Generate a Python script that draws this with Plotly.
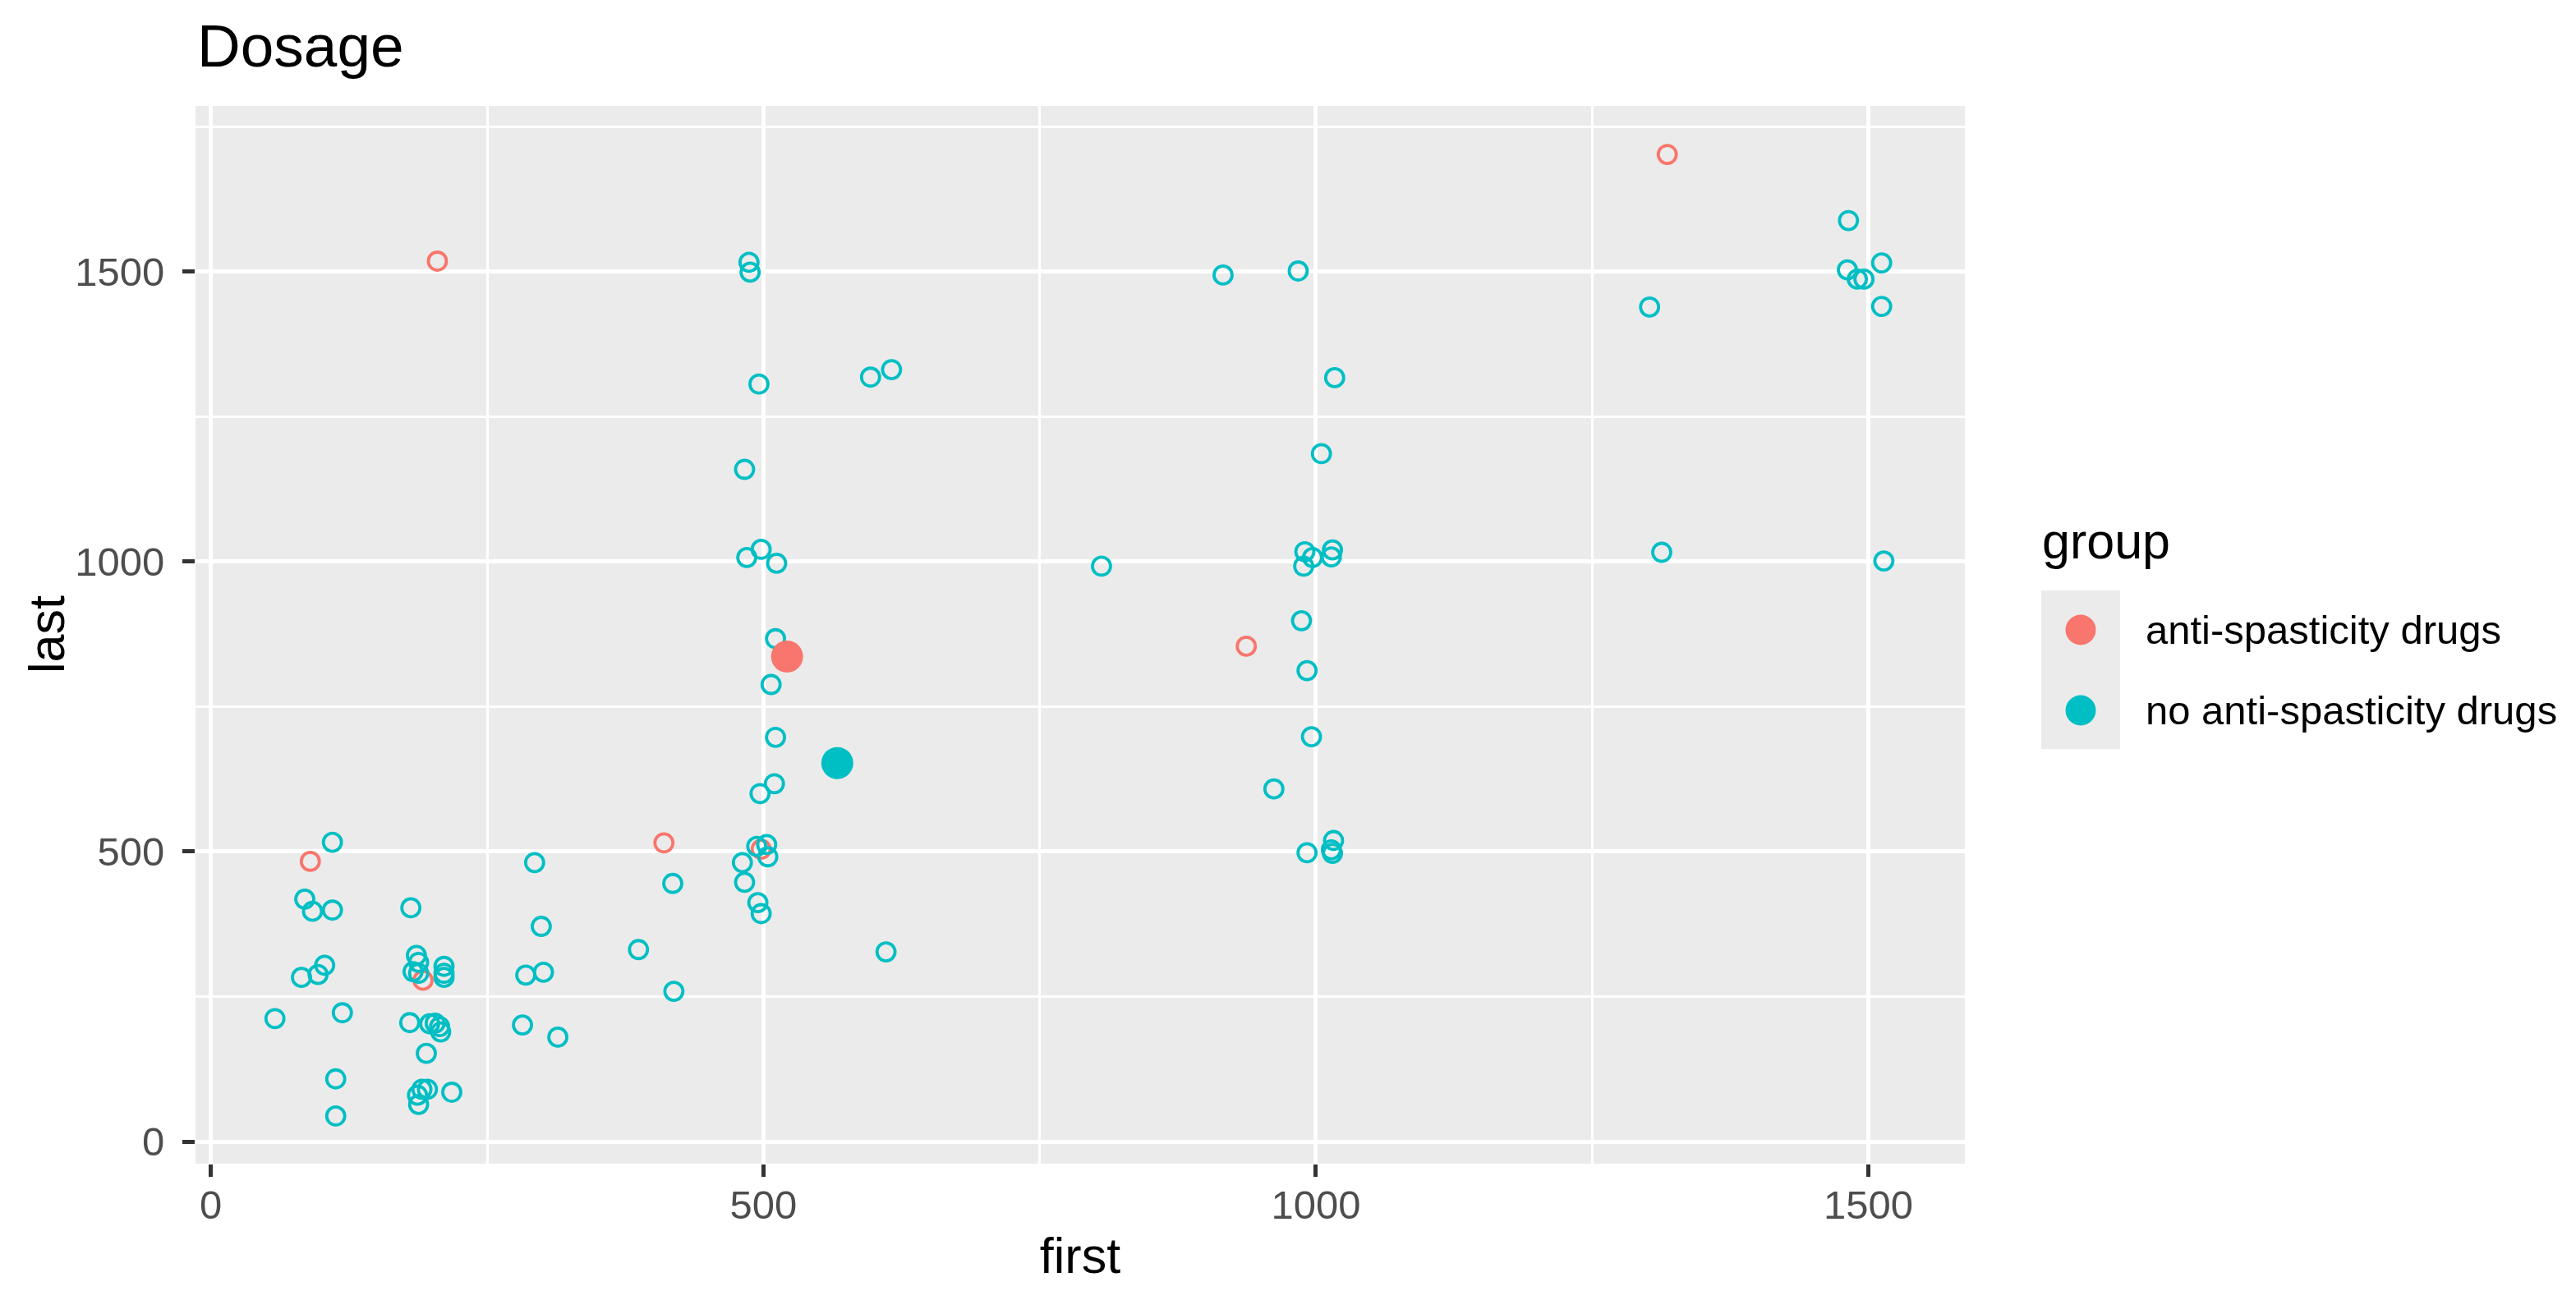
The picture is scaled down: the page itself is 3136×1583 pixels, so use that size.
import numpy as np
import plotly.graph_objects as go

# ---------------- data ----------------
groups = ["anti-spasticity drugs", "no anti-spasticity drugs"]
colors = ["#F8766D", "#00BFC4"]

anti_first = [205, 1318, 937, 410, 90, 192, 498]
anti_last = [1518, 1702, 854, 515, 483, 278, 504]

no_anti_first = [487, 488, 496, 483, 485, 498, 512, 511, 507, 511, 510, 497, 494, 503, 504, 481, 483, 495, 498,
                 597, 616, 611, 418, 387, 419, 293, 299, 301, 285, 282, 314,
                 110, 85, 92, 110, 181, 103, 97, 82, 58, 119, 113, 113,
                 186, 188, 183, 188, 211, 211, 211,
                 180, 198, 203, 207, 208, 195,
                 187, 191, 196, 188, 218,
                 806, 916, 984, 1017, 1005, 990, 997, 989, 1015, 1014, 987, 992, 996, 962, 992, 1016, 1014, 1015,
                 1482, 1481, 1490, 1496, 1512, 1512, 1302, 1313, 1514]
no_anti_last = [1516, 1499, 1306, 1159, 1007, 1021, 997, 867, 788, 697, 617, 600, 509, 512, 491, 481, 447, 412, 393,
                1318, 1331, 327, 445, 331, 259, 481, 371, 292, 287, 201, 180,
                516, 418, 397, 399, 403, 304, 288, 283, 212, 222, 108, 44,
                321, 309, 293, 290, 302, 290, 283,
                205, 203, 204, 198, 189, 152,
                80, 90, 90, 64, 85,
                992, 1494, 1501, 1317, 1186, 1017, 1007, 992, 1020, 1008, 898, 812, 698, 608, 498, 519, 503, 497,
                1588, 1503, 1487, 1487, 1515, 1440, 1439, 1016, 1001]

x_ticks = [0, 500, 1000, 1500]
y_ticks = [0, 500, 1000, 1500]

series = [(anti_first, anti_last), (no_anti_first, no_anti_last)]

# ---------------- layout geometry (pixels, in figure coordinates) ----------------
# the page body adds an 8px offset, so the figure is drawn 8px smaller/shifted
OFF = 8
W, H = 3136 - 2 * OFF, 1583 - 2 * OFF
PL, PR, PT, PB = 238 - OFF, 2392 - OFF, 129 - OFF, 1417 - OFF  # panel box


def px_x(x):
    return (x - OFF - PL) / (PR - PL)


def px_y(y):
    return (PB - (y - OFF)) / (PB - PT)


FONT = "Liberation Sans, Arial, sans-serif"
fig = go.Figure()

# individual observations (hollow)
for (fx, ly), name, col in zip(series, groups, colors):
    fig.add_trace(go.Scatter(
        x=fx, y=ly, mode="markers", name=name, showlegend=False,
        marker=dict(symbol="circle-open", size=22, color=col, line=dict(width=3.8, color=col)),
    ))

# group means (filled)
for (fx, ly), name, col in zip(series, groups, colors):
    fig.add_trace(go.Scatter(
        x=[float(np.mean(fx))], y=[float(np.mean(ly))], mode="markers", name=name + " (mean)",
        showlegend=False,
        marker=dict(symbol="circle", size=39, color=col, line=dict(width=0)),
    ))

axis_common = dict(
    showline=False, zeroline=False,
    showgrid=True, gridcolor="white", gridwidth=5,
    ticks="outside", ticklen=15, tickwidth=4.5, tickcolor="#333333",
    tickfont=dict(family=FONT, size=49, color="#4D4D4D"),
    tickmode="array",
)

fig.update_xaxes(
    **axis_common, tickvals=x_ticks, ticktext=[str(v) for v in x_ticks],
    range=[-13.9, 1587.3],
    minor=dict(tickmode="array", tickvals=[250, 750, 1250], showgrid=True, gridcolor="white",
               gridwidth=2.5, ticks=""),
    title=dict(text="first", font=dict(family=FONT, size=61, color="black"), standoff=14),
    ticklabelstandoff=-8,
)
fig.update_yaxes(
    **axis_common, tickvals=y_ticks, ticktext=[str(v) for v in y_ticks],
    range=[-38.2, 1785.6],
    minor=dict(tickmode="array", tickvals=[250, 750, 1250, 1750], showgrid=True, gridcolor="white",
               gridwidth=2.5, ticks=""),
    ticklabelstandoff=12,
)

shapes = []
annotations = []

# title
annotations.append(dict(text="Dosage", x=0, y=px_y(55), xref="paper", yref="paper",
                        xanchor="left", yanchor="middle", showarrow=False,
                        font=dict(family=FONT, size=73, color="black")))

# y axis title
annotations.append(dict(text="last", x=px_x(57), y=px_y(773), xref="paper", yref="paper",
                        xanchor="center", yanchor="middle", textangle=-90, showarrow=False,
                        font=dict(family=FONT, size=61, color="black")))

# legend (drawn manually to mimic ggplot keys)
shapes.append(dict(type="rect", xref="paper", yref="paper",
                   x0=px_x(2485), x1=px_x(2581), y0=px_y(912), y1=px_y(719),
                   fillcolor="#EBEBEB", line=dict(width=0), layer="below"))
key_y = [767, 865]
for name, col, ky in zip(groups, colors, key_y):
    shapes.append(dict(type="circle", xref="paper", yref="paper",
                       xsizemode="pixel", ysizemode="pixel",
                       xanchor=px_x(2533), yanchor=px_y(ky),
                       x0=-18.5, x1=18.5, y0=-18.5, y1=18.5,
                       fillcolor=col, line=dict(width=0)))
    annotations.append(dict(text=name, x=px_x(2610), y=px_y(ky), xref="paper", yref="paper",
                            xanchor="left", yanchor="middle", showarrow=False,
                            font=dict(family=FONT, size=49, color="black")))
annotations.append(dict(text="group", x=px_x(2484), y=px_y(659), xref="paper", yref="paper",
                        xanchor="left", yanchor="middle", showarrow=False,
                        font=dict(family=FONT, size=61, color="black")))

fig.update_layout(
    width=W, height=H, autosize=False,
    margin=dict(l=PL, r=W - PR, t=PT, b=H - PB, pad=0),
    plot_bgcolor="#EBEBEB", paper_bgcolor="white",
    showlegend=False,
    shapes=shapes, annotations=annotations,
    font=dict(family=FONT),
)

fig.write_html("out.html")
